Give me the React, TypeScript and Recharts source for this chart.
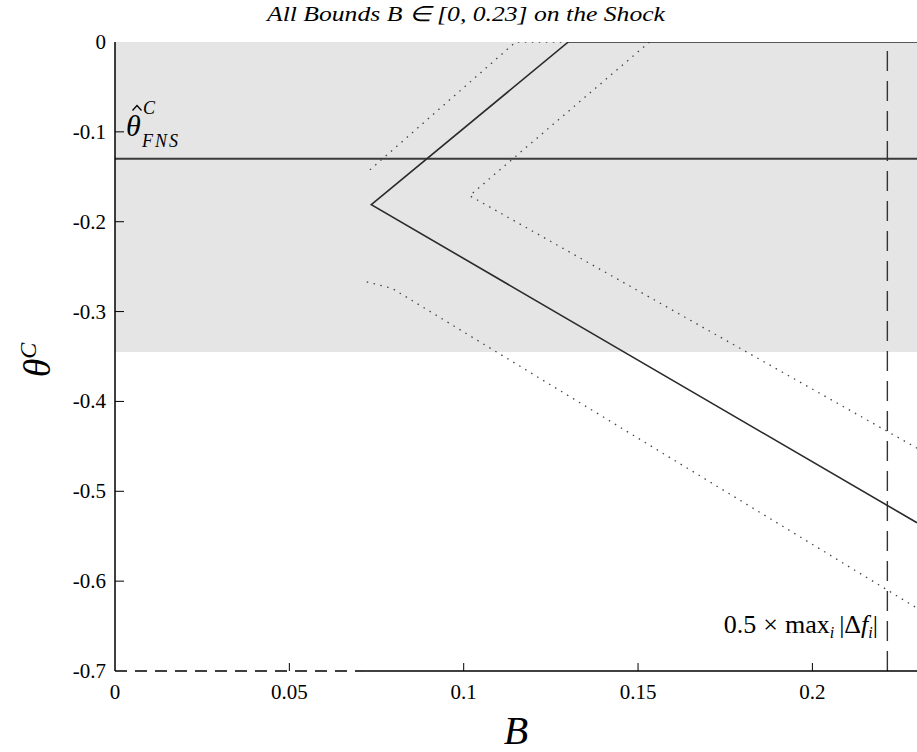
import React from 'react'
import { LineChart, Line, XAxis, YAxis, ReferenceArea, ReferenceLine } from 'recharts'

// solid bound: flat along the top, down to the kink, then out to the right edge
const mainBound = [
  { b: 0.23, t: 0 },
  { b: 0.13, t: 0 },
  { b: 0.0735, t: -0.181 },
  { b: 0.23, t: -0.535 },
]

// dotted bands around it
const upperDotted = [
  { b: 0.13, t: 0 },
  { b: 0.1149, t: 0 },
  { b: 0.0722, t: -0.1454 },
]
const rightDotted = [
  { b: 0.1533, t: 0 },
  { b: 0.1017, t: -0.171 },
  { b: 0.23, t: -0.452 },
]
const lowerDotted = [
  { b: 0.0722, t: -0.267 },
  { b: 0.0794, t: -0.274 },
  { b: 0.23, t: -0.63 },
]

const xTicks = [0, 0.05, 0.1, 0.15, 0.2]
const yTicks = [0, -0.1, -0.2, -0.3, -0.4, -0.5, -0.6, -0.7]

const fnsEstimate = -0.13
const shadeBottom = -0.345
const maxShock = 0.2215
const boundStart = 0.072

const SERIF = 'Liberation Serif'

const XTick = (props: any) => {
  const { x, y, payload } = props
  return (
    <g>
      {payload.value !== 0 && <line x1={x} x2={x} y1={y} y2={y - 8} stroke="#000" strokeWidth={1} />}
      <text x={x} y={y + 28} textAnchor="middle" fontFamily={SERIF} fontSize={21} fill="#000">
        {String(payload.value)}
      </text>
    </g>
  )
}

const YTick = (props: any) => {
  const { x, y, payload } = props
  const v = payload.value
  return (
    <g>
      {v !== 0 && v !== -0.7 && <line x1={x} x2={x + 9} y1={y} y2={y} stroke="#000" strokeWidth={1} />}
      <text x={x - 9} y={y + 7} textAnchor="end" fontFamily={SERIF} fontSize={21} fill="#000">
        {v === 0 ? '0' : String(v)}
      </text>
    </g>
  )
}

export default function App() {
  return (
    <div style={{ position: 'absolute', left: 0, top: 0, width: 917, height: 752, background: '#fff', fontFamily: SERIF }}>
      <LineChart width={917} height={752} margin={{ top: 42, right: 0, bottom: 0, left: 0 }}>
        <ReferenceArea x1={0} x2={0.23} y1={shadeBottom} y2={0} fill="#e5e5e5" fillOpacity={1} stroke="none" ifOverflow="hidden" />
        <XAxis
          type="number"
          dataKey="b"
          domain={[0, 0.23]}
          ticks={xTicks}
          height={81}
          axisLine={false}
          tickLine={false}
          tickSize={0}
          tickMargin={0}
          tick={<XTick />}
          allowDataOverflow
        />
        <YAxis
          type="number"
          dataKey="t"
          domain={[-0.7, 0]}
          ticks={yTicks}
          width={115}
          axisLine={{ stroke: '#000', strokeWidth: 1.5 }}
          tickLine={false}
          tickSize={0}
          tickMargin={0}
          tick={<YTick />}
          allowDataOverflow
        />
        <ReferenceLine y={fnsEstimate} stroke="#3a3a3a" strokeWidth={2} />
        <ReferenceLine x={maxShock} stroke="#333" strokeWidth={1.4} strokeDasharray="20 10" />
        <ReferenceLine
          segment={[{ x: 0, y: -0.7 }, { x: boundStart, y: -0.7 }]}
          stroke="#000"
          strokeWidth={1.5}
          strokeDasharray="12 8"
        />
        <ReferenceLine
          segment={[{ x: boundStart, y: -0.7 }, { x: 0.23, y: -0.7 }]}
          stroke="#000"
          strokeWidth={1.5}
        />
        <Line data={upperDotted} dataKey="t" type="linear" stroke="#444" strokeWidth={1.3} strokeDasharray="1.5 5.5" dot={false} isAnimationActive={false} />
        <Line data={rightDotted} dataKey="t" type="linear" stroke="#444" strokeWidth={1.3} strokeDasharray="1.5 5.5" dot={false} isAnimationActive={false} />
        <Line data={lowerDotted} dataKey="t" type="linear" stroke="#444" strokeWidth={1.3} strokeDasharray="1.5 5.5" dot={false} isAnimationActive={false} />
        <Line data={mainBound} dataKey="t" type="linear" stroke="#2a2a2a" strokeWidth={1.6} dot={false} isAnimationActive={false} />
      </LineChart>
      <svg width={917} height={752} style={{ position: 'absolute', left: 0, top: 0, pointerEvents: 'none' }}>
        <text x={466} y={21} textAnchor="middle" fontFamily={SERIF} fontStyle="italic" fontSize={21} fill="#000" textLength={398} lengthAdjust="spacingAndGlyphs">
          All Bounds B ∈ [0, 0.23] on the Shock
        </text>
        <text x={516} y={744} textAnchor="middle" fontFamily={SERIF} fontStyle="italic" fontSize={40} fill="#000">
          B
        </text>
        <text x={50} y={360} transform="rotate(-90, 50, 360)" textAnchor="middle" fontFamily={SERIF} fontStyle="italic" fontSize={38} fill="#000">
          θ<tspan fontSize={24} dy={-14}>C</tspan>
        </text>
        {/* θ-hat with C superscript and FNS subscript */}
        <text x={126} y={136} fontFamily={SERIF} fontStyle="italic" fontSize={30} fill="#000">θ</text>
        <path d="M132.5 110.5 L137 105.5 L141.5 110.5" fill="none" stroke="#000" strokeWidth={1.3} />
        <text x={143} y={114} fontFamily={SERIF} fontStyle="italic" fontSize={18} fill="#000">C</text>
        <text x={142} y={147} fontFamily={SERIF} fontStyle="italic" fontSize={18} fill="#000" letterSpacing={2}>FNS</text>
        <text x={878} y={633} textAnchor="end" fontFamily={SERIF} fontSize={26} fill="#000">
          0.5<tspan dx={7}>×</tspan>
          <tspan dx={7}>max</tspan>
          <tspan fontSize={16} dy={5} fontStyle="italic">i</tspan>
          <tspan dy={-5} dx={5}>|Δ</tspan>
          <tspan fontStyle="italic">f</tspan>
          <tspan fontSize={16} dy={5} fontStyle="italic">i</tspan>
          <tspan dy={-5}>|</tspan>
        </text>
      </svg>
    </div>
  )
}
